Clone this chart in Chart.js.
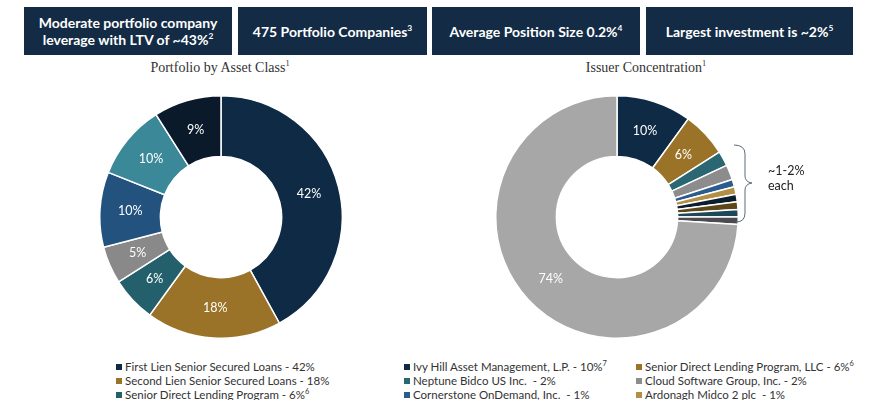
<!DOCTYPE html>
<html>
<head>
<meta charset="utf-8">
<script src="https://cdn.jsdelivr.net/npm/chart.js@4"></script>
<style>
  body { margin: 0; width: 870px; height: 400px; overflow: hidden; background: #fff; position: relative; font-family: Lato, sans-serif; }
  .box { position: absolute; top: 7px; height: 48px; background: #132b45; color: #fff; font-weight: 700; font-size: 14px;
         display: flex; align-items: center; justify-content: center; text-align: center; line-height: 17px; }
  .box sup, .title sup { font-size: 0.6em; line-height: 0; }
  .title { position: absolute; top: 60px; font-family: "Liberation Serif", serif; font-size: 14px; color: #333; text-align: center; }
  .legend { position: absolute; font-size: 11.5px; color: #333; line-height: 14px; }
  .legend div { white-space: pre; }
  .legend span.sw { display: inline-block; width: 6px; height: 6px; margin-right: 3px; vertical-align: 1px; }
  .legend sup { font-size: 0.65em; line-height: 0; }
  canvas { position: absolute; }
</style>
</head>
<body>
<div class="box" style="left:24px;width:208px"><span>Moderate portfolio company<br>leverage with LTV of ~43%<sup>2</sup></span></div>
<div class="box" style="left:238px;width:189px"><span>475 Portfolio Companies<sup>3</sup></span></div>
<div class="box" style="left:432px;width:208px"><span>Average Position Size 0.2%<sup>4</sup></span></div>
<div class="box" style="left:646px;width:207px"><span>Largest investment is ~2%<sup>5</sup></span></div>

<div class="title" style="left:120px;width:200px">Portfolio by Asset Class<sup>1</sup></div>
<div class="title" style="left:546px;width:200px">Issuer Concentration<sup>1</sup></div>

<canvas id="assetChart" width="244" height="244" style="left:99px;top:95px"></canvas>
<canvas id="issuerChart" width="244" height="244" style="left:495px;top:95px"></canvas>

<div class="legend" id="assetLegend" style="left:116px;top:360px"></div>
<div class="legend" id="issuerLegend1" style="left:404px;top:360px"></div>
<div class="legend" id="issuerLegend2" style="left:636px;top:360px"></div>

<svg style="position:absolute;left:730px;top:140px" width="40" height="90">
  <path d="M4 5 Q15 5 15 14 L15 36 Q15 42 22 43 Q15 44 15 50 L15 73 Q15 82 6 82" fill="none" stroke="#5d6b79" stroke-width="1"/>
</svg>
<div style="position:absolute;left:768px;top:163px;font-size:12.5px;color:#222;line-height:15px">~1-2%<br>each</div>

<script>
// Portfolio by asset class
const assetLabels = ['First Lien Senior Secured Loans', 'Second Lien Senior Secured Loans', 'Senior Direct Lending Program',
  'Senior Subordinated Loans', 'Preferred Equity', 'Ivy Hill Asset Management, L.P.', 'Other Equity'];
const assetValues = [42, 18, 6, 5, 10, 10, 9];
const assetNotes = ['', '', '6', '', '', '7', ''];
const assetColors = ['#0f2a45', '#9a7328', '#24606b', '#898989', '#23527f', '#3a8898', '#0b1a2a'];

// Issuer concentration
const issuerLabels = ['Ivy Hill Asset Management, L.P.', 'Senior Direct Lending Program, LLC', 'Neptune Bidco US Inc. ',
  'Cloud Software Group, Inc.', 'Cornerstone OnDemand, Inc. ', 'Ardonagh Midco 2 plc ', 'Top 10 issuer', 'Top 10 issuer',
  'Top 10 issuer', 'Top 10 issuer', 'All other issuers'];
const issuerValues = [10, 6, 2, 2, 1, 1, 1, 1, 1, 1, 74];
const issuerNotes = ['7', '6', '', '', '', '', '', '', '', '', ''];
const issuerColors = ['#0f2a45', '#9a7328', '#2b6673', '#8c8c8c', '#2c5b8e', '#b38f46', '#0c1d2e', '#5c4719', '#1e4757', '#4a4a4f', '#a7a7a7'];

// draw the % labels on the bigger slices
const sliceLabels = {
  id: 'sliceLabels',
  afterDatasetsDraw(chart) {
    const ctx = chart.ctx;
    const data = chart.data.datasets[0].data;
    chart.getDatasetMeta(0).data.forEach((arc, i) => {
      if (data[i] < 5) return;
      const p = arc.tooltipPosition();
      ctx.save();
      ctx.fillStyle = '#fff';
      ctx.font = '12.5px Lato, sans-serif';
      ctx.textAlign = 'center';
      ctx.textBaseline = 'middle';
      ctx.fillText(data[i] + '%', p.x, p.y);
      ctx.restore();
    });
  }
};

function donut(id, labels, values, colors) {
  return new Chart(document.getElementById(id), {
    type: 'doughnut',
    data: {
      labels: labels,
      datasets: [{ data: values, backgroundColor: colors, borderColor: '#fff', borderWidth: 1.5 }]
    },
    options: {
      responsive: false,
      animation: false,
      cutout: '50%',
      plugins: { legend: { display: false }, tooltip: { enabled: false } }
    },
    plugins: [sliceLabels]
  });
}

donut('assetChart', assetLabels, assetValues, assetColors);
donut('issuerChart', issuerLabels, issuerValues, issuerColors);

function legendRow(label, value, note, color) {
  const row = document.createElement('div');
  row.innerHTML = `<span class="sw" style="background:${color}"></span>${label} - ${value}%` + (note ? `<sup>${note}</sup>` : '');
  return row;
}

const assetLegend = document.getElementById('assetLegend');
assetLabels.forEach((l, i) => assetLegend.appendChild(legendRow(l, assetValues[i], assetNotes[i], assetColors[i])));

const leg1 = document.getElementById('issuerLegend1');
const leg2 = document.getElementById('issuerLegend2');
issuerLabels.forEach((l, i) => {
  (i % 2 === 0 ? leg1 : leg2).appendChild(legendRow(l, issuerValues[i], issuerNotes[i], issuerColors[i]));
});
</script>
</body>
</html>
